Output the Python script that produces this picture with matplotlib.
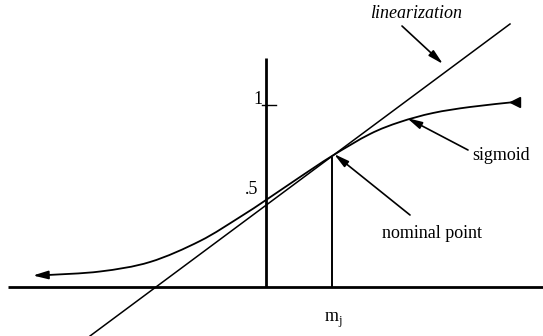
import matplotlib.pyplot as plt
from matplotlib.path import Path
from matplotlib.patches import PathPatch

# all coordinates are in picture pixels (x right, y down)
sig_x = [48, 100, 150, 200, 240, 266, 300, 332, 370, 400, 433, 470, 515]
sig_y = [275, 271.5, 262, 241, 217, 200, 177, 156, 134, 122, 113, 107, 102]
lin_x = [90, 510]
lin_y = [336, 24]
axis_y = 287
axis_x = 266
nominal_x = 332
tick_labels = ["1", ".5"]
tick_y = [105, 189]


def smooth_path(xs, ys):
    # Catmull-Rom through the read points, drawn as cubic Bezier segments
    pts = list(zip(xs, ys))
    verts = [pts[0]]
    codes = [Path.MOVETO]
    for i in range(len(pts) - 1):
        p0 = pts[max(i - 1, 0)]
        p1 = pts[i]
        p2 = pts[i + 1]
        p3 = pts[min(i + 2, len(pts) - 1)]
        c1 = (p1[0] + (p2[0] - p0[0]) / 6, p1[1] + (p2[1] - p0[1]) / 6)
        c2 = (p2[0] - (p3[0] - p1[0]) / 6, p2[1] - (p3[1] - p1[1]) / 6)
        verts += [c1, c2, p2]
        codes += [Path.CURVE4] * 3
    return Path(verts, codes)


fig = plt.figure(figsize=(5.43, 3.36), dpi=100)
ax = fig.add_axes([0, 0, 1, 1])
ax.set_xlim(0, 543)
ax.set_ylim(336, 0)
ax.axis("off")
plt.rcParams["font.family"] = ["Liberation Serif", "DejaVu Serif"]

# axes
ax.plot([8, 543], [axis_y, axis_y], color="black", lw=2.0, solid_capstyle="butt")
ax.plot([axis_x, axis_x], [58, axis_y], color="black", lw=2.0, solid_capstyle="butt")
ax.plot([262, 276], [tick_y[0], tick_y[0]], color="black", lw=1.0)
ax.text(263, tick_y[0] - 5, tick_labels[0], ha="right", va="center", fontsize=13)
ax.text(258, tick_y[1], tick_labels[1], ha="right", va="center", fontsize=13)

# nominal point line
ax.plot([nominal_x, nominal_x], [158, axis_y], color="black", lw=1.4)

# linearization and sigmoid
ax.plot(lin_x, lin_y, color="black", lw=1.1)
ax.add_patch(PathPatch(smooth_path(sig_x, sig_y), fill=False, edgecolor="black", lw=1.3))
ax.annotate("", xy=(33, 275.5), xytext=(sig_x[0], sig_y[0]),
            arrowprops=dict(arrowstyle="-|>,head_length=0.9,head_width=0.25", color="black", lw=1.3,
                            shrinkA=0, shrinkB=0))
ax.plot([sig_x[-1]], [sig_y[-1]], marker="<", color="black", markersize=7)

# labels with arrows
arrow = dict(arrowstyle="-|>,head_length=0.9,head_width=0.22", color="black", lw=1.2, shrinkA=0, shrinkB=0)
ax.text(416, 14, "linearization", ha="center", va="center", fontsize=13, style="italic")
ax.annotate("", xy=(443, 64), xytext=(402, 26), arrowprops=arrow)
ax.text(472, 156, "sigmoid", ha="left", va="center", fontsize=13)
ax.annotate("", xy=(407, 118), xytext=(468, 150), arrowprops=arrow)
ax.text(382, 233, "nominal point", ha="left", va="center", fontsize=13)
ax.annotate("", xy=(334, 154), xytext=(410, 215), arrowprops=arrow)

ax.text(333, 320, r"m$_\mathregular{j}$", ha="center", va="center", fontsize=13)

fig.savefig("out.png", dpi=100)
